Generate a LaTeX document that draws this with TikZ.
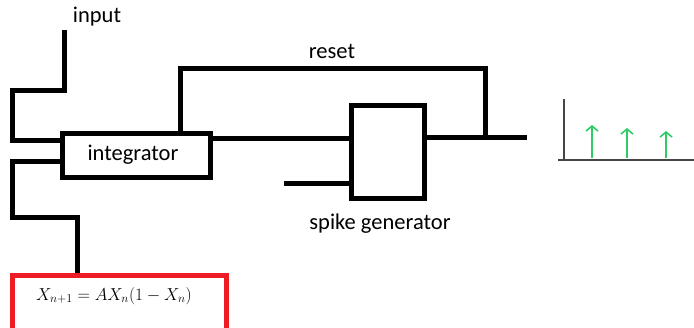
\documentclass[tikz,border=0pt]{standalone}
\usepackage{fontspec}
\setmainfont{Carlito}
\usetikzlibrary{arrows.meta}
\definecolor{framered}{RGB}{237,28,36}
\definecolor{spikegreen}{RGB}{46,204,102}
\definecolor{axisgray}{RGB}{70,70,70}
\tikzset{
  wire/.style={line width=5pt},
  blockbox/.style={draw,rectangle,line width=5pt,inner sep=0pt},
  lbl/.style={font=\fontsize{22.5}{26}\selectfont},
  axisline/.style={draw=axisgray,line width=2pt},
  spikearrow/.style={draw=spikegreen,line width=1.6pt,-{Straight Barb[length=5pt,width=12pt]}}
}
\begin{document}
\begin{tikzpicture}[x=1pt,y=-1pt]
\useasboundingbox (0,0) rectangle (694,327);
% blocks
\node[blockbox,minimum width=148,minimum height=44] (integ) at (136,155) {};
\node[lbl] (integlbl) at (133,155) {integrator};
\node[blockbox,minimum width=73,minimum height=93] (spikegen) at (388,152) {};
\node[lbl] (spikelbl) at (380,224) {spike generator};
\node[lbl] (inplbl) at (97,17) {input};
\node[lbl] (resetlbl) at (332,51) {reset};
\node[font=\fontsize{17.5}{20}\selectfont] (eqn) at (114,296) {$X_{n+1} = AX_n(1-X_n)$};
\draw[framered,line width=5pt] (12,340) |- (226,275) -- (226,340);
% free ends
\coordinate (inp) at (64,30);
\coordinate (eqtop) at (77,273);
\coordinate (trig) at (284,183);
\coordinate (outend) at (527,137);
% wires
\draw[wire] (inp) |- (12,90) |- ([yshift=15pt]integ.west);
\draw[wire] ([yshift=-6pt]integ.west) -| (12,217) -| (eqtop);
\draw[wire] ([yshift=17pt]integ.east) -- ([yshift=17pt]integ.east -| spikegen.west);
\draw[wire] (trig) -- (trig -| spikegen.west);
\draw[wire] ([yshift=15pt]spikegen.east) -- (outend);
\draw[wire] ([xshift=44pt]integ.north) |- (485,68) -- (485,137);
% spike train
\draw[axisline] (564,99) -- (564,161);
\draw[axisline] (558,160) -- (694,160);
\foreach \x/\h in {592/125,627/128,666/131}
  \draw[spikearrow] (\x,158) -- (\x,\h);
\end{tikzpicture}
\end{document}
